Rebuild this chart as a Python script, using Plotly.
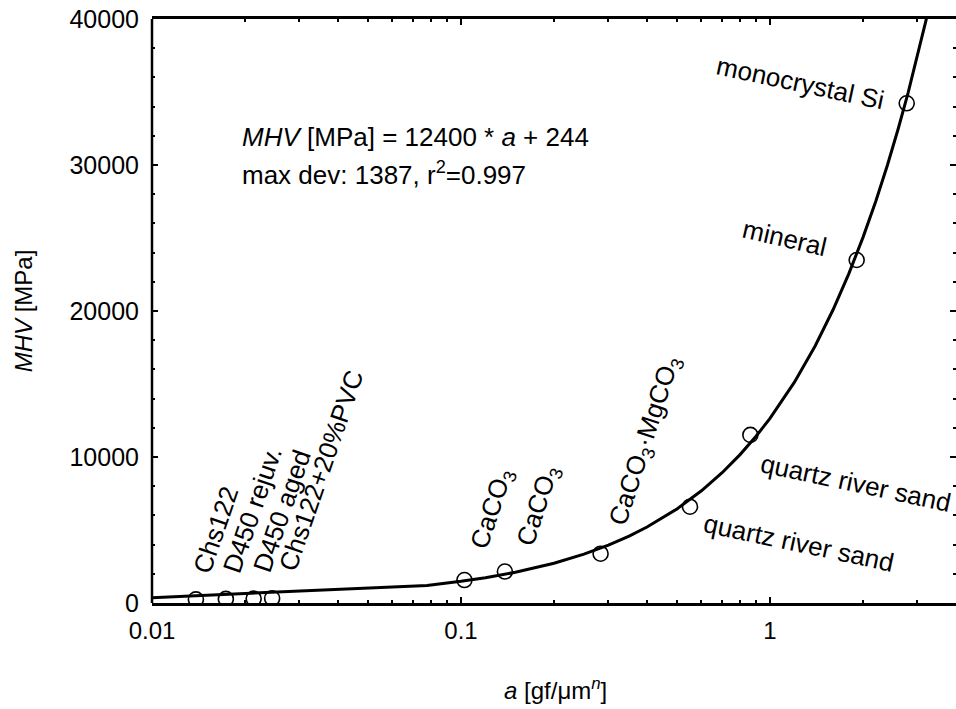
import plotly.graph_objects as go
import math

# measured data points
a_pts = [0.01387, 0.01734, 0.02133, 0.02448, 0.1026, 0.1387, 0.283, 0.551, 0.864, 1.908, 2.77]
mhv_pts = [250, 280, 300, 320, 1575, 2157, 3377, 6596, 11514, 23493, 34226]

# fit line samples (MHV = 12400*a + 244)
a_fit = [0.01, 0.0776, 0.1, 0.12, 0.15, 0.2, 0.25, 0.3, 0.35, 0.4, 0.5, 0.6, 0.7, 0.8, 0.9,
         1.0, 1.2, 1.4, 1.6, 1.8, 2.0, 2.2, 2.4, 2.6, 2.8, 3.0, 3.2, 3.4]
mhv_fit = [368, 1206, 1484, 1732, 2104, 2724, 3344, 3964, 4584, 5204, 6444, 7684, 8924, 10164, 11404,
           12644, 15124, 17604, 20084, 22564, 25044, 27524, 30004, 32484, 34964, 37444, 39924, 42404]

# labels: text, x (a), y (MHV) of label centre, angle
labels = ["Chs122", "D450 rejuv.", "D450 aged", "Chs122+20%PVC",
          "CaCO<sub>3</sub>", "CaCO<sub>3</sub>", "CaCO<sub>3</sub>·MgCO<sub>3</sub>",
          "quartz river sand", "quartz river sand", "mineral", "monocrystal Si"]
label_a = [0.01607, 0.02113, 0.0263, 0.03516, 0.1259, 0.1774, 0.3954, 1.242, 1.897, 1.118, 1.257]
label_y = [5000, 6370, 6322, 9062, 6438, 6644, 11123, 4110, 8253, 25000, 35596]
label_ang = [-71, -71, -71, -71, -72, -72, -72, 12, 12, 13, 12]

xticks = [0.01, 0.1, 1]
xticklabels = ["0.01", "0.1", "1"]
yticks = [0, 10000, 20000, 30000, 40000]
yticklabels = ["0", "10000", "20000", "30000", "40000"]

FONT = "Liberation Sans, Arial, sans-serif"

fig = go.Figure()
fig.add_trace(go.Scatter(x=a_fit, y=mhv_fit, mode="lines",
                         line=dict(color="black", width=3), showlegend=False, cliponaxis=True))
fig.add_trace(go.Scatter(x=a_pts, y=mhv_pts, mode="markers",
                         marker=dict(symbol="circle-open", size=15, color="black",
                                     line=dict(width=1.6, color="black")),
                         showlegend=False))

minor_x = [k * 10.0 ** e for e in (-2, -1, 0) for k in range(2, 10)]

fig.update_xaxes(type="log", range=[-2, 0.602],
                 tickvals=xticks, ticktext=xticklabels,
                 ticks="inside", ticklen=6, tickwidth=1.5, tickcolor="black",
                 showline=True, linecolor="black", linewidth=2.5, mirror="ticks",
                 showgrid=False, zeroline=False,
                 minor=dict(ticks="inside", ticklen=3, tickwidth=1.5, tickcolor="black",
                            tickvals=minor_x, showgrid=False),
                 tickfont=dict(family=FONT, size=24, color="black"),
                 ticklabelstandoff=4)
fig.update_yaxes(range=[0, 40000], tickvals=yticks, ticktext=yticklabels,
                 ticks="inside", ticklen=6, tickwidth=1.5, tickcolor="black",
                 showline=False, mirror="ticks",
                 showgrid=False, zeroline=False,
                 minor=dict(ticks="inside", ticklen=3, tickwidth=1.5, tickcolor="black",
                            dtick=2000, showgrid=False),
                 tickfont=dict(family=FONT, size=25, color="black"),
                 ticklabelstandoff=12)

annotations = []
for t, xa, ya, ang in zip(labels, label_a, label_y, label_ang):
    annotations.append(dict(x=math.log10(xa), y=ya, xref="x", yref="y", text=t,
                            textangle=ang, showarrow=False, xanchor="center", yanchor="middle",
                            font=dict(family=FONT, size=26, color="black")))

annotations.append(dict(x=0.1096, y=31918, xref="paper", yref="y",
                        text="<i>MHV</i> [MPa] = 12400 * <i>a</i> + 244", showarrow=False,
                        xanchor="left", yanchor="middle",
                        font=dict(family=FONT, size=26, color="black")))
annotations.append(dict(x=0.1096, y=29400, xref="paper", yref="y",
                        text="max dev: 1387, r<sup>2</sup>=0.997", showarrow=False,
                        xanchor="left", yanchor="middle",
                        font=dict(family=FONT, size=26, color="black")))
annotations.append(dict(x=-0.160, y=0.50, xref="paper", yref="paper",
                        text="<i>MHV</i> [MPa]", textangle=-90, showarrow=False,
                        xanchor="center", yanchor="middle",
                        font=dict(family=FONT, size=24, color="black")))
annotations.append(dict(x=0.502, y=-0.148, xref="paper", yref="paper",
                        text="<i>a</i> [gf/μm<sup><i>n</i></sup>]", showarrow=False,
                        xanchor="center", yanchor="middle",
                        font=dict(family=FONT, size=24, color="black")))

fig.update_layout(width=956, height=709,
                  margin=dict(l=152, r=0, t=19, b=106),
                  paper_bgcolor="white", plot_bgcolor="white",
                  annotations=annotations,
                  shapes=[dict(type="line", xref="paper", yref="paper", x0=0, x1=0, y0=0, y1=1,
                               line=dict(color="black", width=2.5))])

fig.write_html("out.html", config={"displayModeBar": False},
               post_script="document.body.style.margin='0';document.body.style.overflow='hidden';")
